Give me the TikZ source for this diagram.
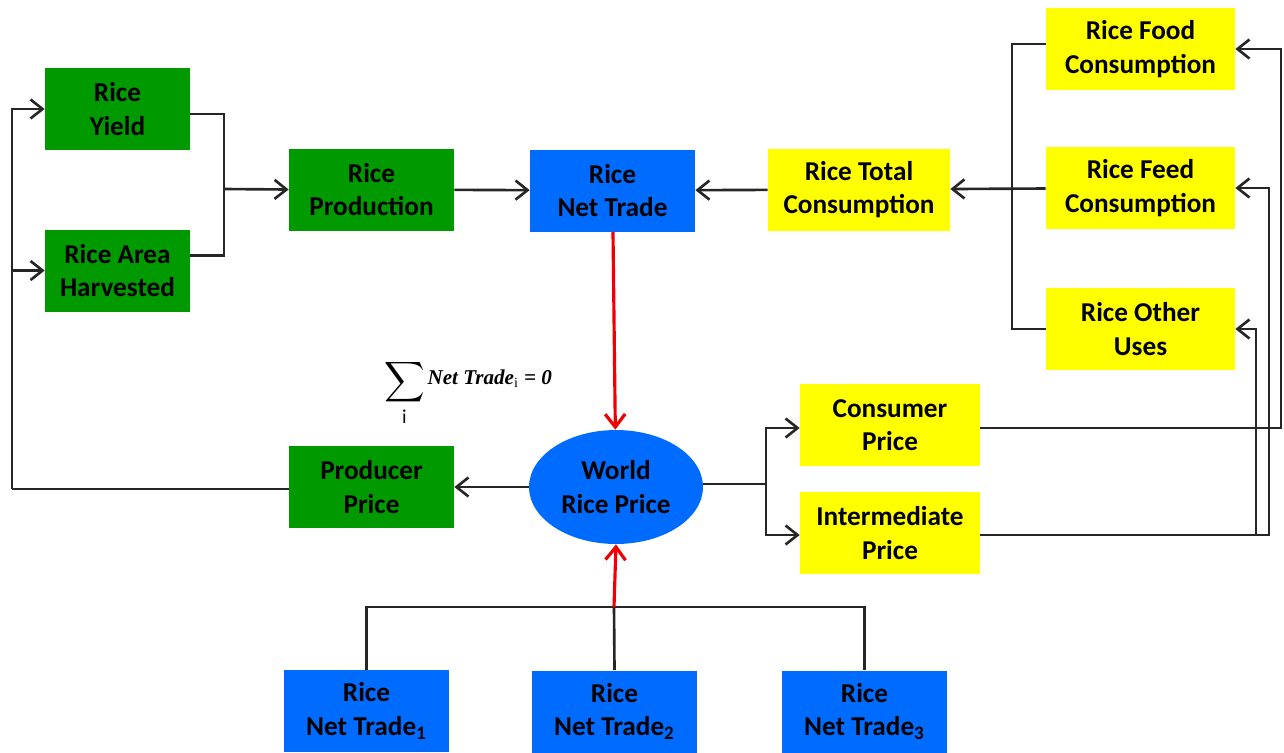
\documentclass[tikz,border=0pt]{standalone}
\usepackage{fontspec}
\setmainfont{Carlito}
\newfontfamily\formfont{Liberation Serif}
\usepackage{tikz}
\usetikzlibrary{shapes.geometric, arrows.meta, positioning}
\definecolor{prodgreen}{RGB}{0, 153, 0}
\definecolor{tradeblue}{RGB}{0, 108, 255}
\definecolor{consyellow}{RGB}{255, 255, 0}
\definecolor{linkred}{RGB}{240, 0, 0}

\begin{document}
\begin{tikzpicture}[x=0.02cm, y=-0.02cm,
    box/.style={minimum width=2.9cm, minimum height=1.64cm, align=center, inner sep=0pt, font=\fontsize{15.5}{19}\selectfont\bfseries},
    greenbox/.style={box, fill=prodgreen, minimum width=3.3cm},
    bluebox/.style={box, fill=tradeblue, minimum width=3.3cm},
    yellowbox/.style={box, fill=consyellow},
    link/.style={line width=1.5pt, black!85},
    arr/.style={link, -{Straight Barb[length=2.4mm, width=3.8mm, line width=1.5pt]}},
    redarr/.style={line width=1.8pt, linkred, -{Straight Barb[length=2.6mm, width=4mm, line width=1.8pt]}}]
        \useasboundingbox (0,0) rectangle (1284,752);

        % Production side
        \node[greenbox, minimum width=2.9cm] (yield) at (117.5,109) {Rice\\Yield};
        \node[greenbox, minimum width=2.9cm] (area) at (117.5,270.5) {Rice Area\\Harvested};
        \node[greenbox] (prod) at (371.5,189.5) {Rice\\Production};
        \node[greenbox] (pprice) at (371.5,487) {Producer\\Price};

        % Trade and world price
        \node[bluebox] (nettrade) at (612.5,190.5) {Rice\\Net Trade};
        \node[ellipse, fill=tradeblue, minimum width=3.48cm, minimum height=2.28cm, inner sep=0pt, align=center, font=\fontsize{15.5}{19}\selectfont\bfseries] (world) at (616,487) {World\\Rice Price};
        \node[bluebox] (nt1) at (366.5,711) {Rice\\Net Trade\textsubscript{1}};
        \node[bluebox] (nt2) at (614.5,711.5) {Rice\\Net Trade\textsubscript{2}};
        \node[bluebox] (nt3) at (864.5,711.5) {Rice\\Net Trade\textsubscript{3}};

        % Consumption side
        \node[yellowbox, minimum width=3.64cm] (totcons) at (859,189.5) {Rice Total\\Consumption};
        \node[yellowbox, minimum width=3.78cm] (food) at (1140.5,49) {Rice Food\\Consumption};
        \node[yellowbox, minimum width=3.78cm] (feed) at (1140.5,188) {Rice Feed\\Consumption};
        \node[yellowbox, minimum width=3.78cm] (other) at (1140.5,329) {Rice Other\\Uses};
        \node[yellowbox, minimum width=3.6cm] (cprice) at (890,425) {Consumer\\Price};
        \node[yellowbox, minimum width=3.6cm] (iprice) at (890,533) {Intermediate\\Price};

        % Market clearing
        \node[inner sep=0pt] (clearing) at (468,393) {\scalebox{1.6}{$\displaystyle\sum_{\mathrm{i}}$}\,\raisebox{3pt}{\formfont\bfseries\itshape\fontsize{12}{14}\selectfont Net Trade\textsubscript{\upshape\mdseries i} = 0}};

        % Junctions
        \coordinate (jyield) at (224,189);
        \coordinate (jcons) at (1012,188);
        \coordinate (jnt) at (614,607);
        \coordinate (jprice) at (766,484);
        \coordinate (jprod) at (12,489);
        \coordinate (jfood) at (1281,49);
        \coordinate (jfeed) at (1269,188);
        \coordinate (jother) at (1256,329);

        % Supply
        \draw[link] ([yshift=-0.1cm]yield.east) -| (jyield) |- ([yshift=0.3cm]area.east);
        \draw[arr] (jyield) -- (prod.west);
        \draw[arr] (prod) -- (nettrade);
        \draw[link] (pprice.west |- jprod) -- (jprod);
        \draw[arr] (jprod) |- (yield.west);
        \draw[arr] (jprod) |- (area.west);

        % Demand
        \draw[link] ([yshift=0.1cm]food.west) -| (jcons) |- (other.west);
        \draw[arr] (feed) -- (totcons);
        \draw[arr] (totcons) -- (nettrade);

        % World price
        \draw[redarr] (nettrade) -- (world);
        \draw[link] (nt1.north) |- (jnt) -| (nt3.north);
        \draw[link] (nt2.north) -- (jnt);
        \draw[redarr] (jnt) -- (world.south);
        \draw[arr] (world) -- (pprice);
        \draw[link] (world.east |- jprice) -- (jprice);
        \draw[arr] (jprice) |- ([yshift=-0.06cm]cprice.west);
        \draw[arr] (jprice) |- ([yshift=-0.04cm]iprice.west);

        % Price feedback to consumption
        \draw[arr] ([yshift=-0.06cm]cprice.east) -| (jfood) -- (food.east);
        \draw[arr] ([yshift=-0.04cm]iprice.east) -| (jfeed) -- (feed.east);
        \draw[arr] ([yshift=-0.04cm]iprice.east) -| (jother) -- (other.east);
    \end{tikzpicture}
\end{document}
